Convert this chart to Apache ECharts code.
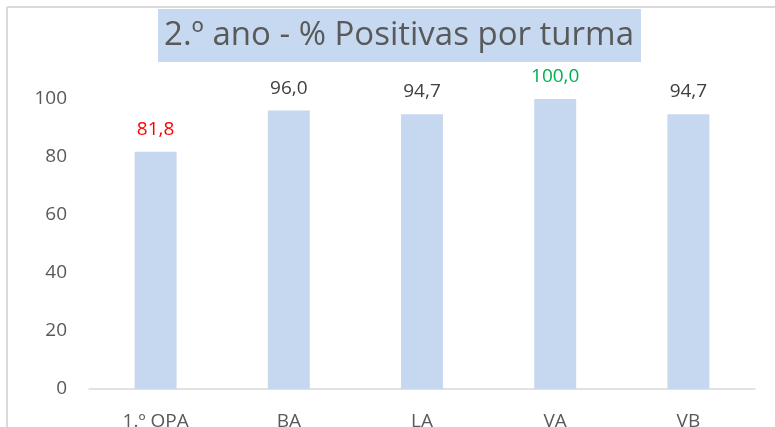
<!DOCTYPE html>
<html>
<head>
<meta charset="utf-8">
<script src="https://cdn.jsdelivr.net/npm/echarts@6/dist/echarts.min.js"></script>
<style>
  html, body { margin: 0; padding: 0; background: #fff; }
  #chart { width: 775px; height: 427px; }
</style>
</head>
<body>
<div id="chart"></div>
<script>
const categories = ['1.º OPA', 'BA', 'LA', 'VA', 'VB'];
const positivas = [81.8, 96.0, 94.7, 100.0, 94.7];
const labelColors = ['#ff0000', '#404040', '#404040', '#00b050', '#404040'];
const yTicks = [0, 20, 40, 60, 80, 100];

const font = '"Open Sans", "Noto Sans", sans-serif';
const myChart = echarts.init(document.getElementById('chart'));

myChart.setOption({
  animation: false,
  backgroundColor: '#fff',
  graphic: [
    // chart frame (top and left edges visible)
    { type: 'line', z: -1, shape: { x1: 7, y1: 7, x2: 775, y2: 7 }, style: { stroke: '#d9d9d9', lineWidth: 2 } },
    { type: 'line', z: -1, shape: { x1: 7, y1: 7, x2: 7, y2: 427 }, style: { stroke: '#d9d9d9', lineWidth: 2 } },
    // title box
    { type: 'rect', z: 0, shape: { x: 158, y: 9, width: 483, height: 53 }, style: { fill: '#c6d9f0' } },
    {
      type: 'text', z: 1, x: 399, y: 36,
      style: {
        text: '2.º ano - % Positivas por turma', fill: '#595959',
        font: '33px ' + font, align: 'center', verticalAlign: 'middle'
      }
    }
  ],
  grid: { left: 89, right: 20, top: 99, bottom: 38, outerBoundsMode: 'none', containLabel: false },
  xAxis: {
    type: 'category',
    data: categories,
    axisLine: { lineStyle: { color: '#d9d9d9', width: 1.5 } },
    axisTick: { show: false },
    axisLabel: { color: '#595959', fontSize: 19, fontFamily: font, margin: 23 }
  },
  yAxis: {
    type: 'value',
    min: yTicks[0],
    max: yTicks[yTicks.length - 1],
    interval: 20,
    splitLine: { show: false },
    axisLine: { show: false },
    axisTick: { show: false },
    axisLabel: { color: '#595959', fontSize: 19, fontFamily: font, margin: 22 }
  },
  series: [{
    type: 'bar',
    barWidth: '31.5%',
    itemStyle: { color: '#c6d8f0' },
    data: positivas.map((v, i) => ({
      value: v,
      label: { color: labelColors[i] }
    })),
    label: {
      show: true,
      position: 'top',
      distance: 13,
      fontSize: 19,
      fontFamily: font,
      formatter: p => p.value.toFixed(1).replace('.', ',')
    }
  }]
});

window.addEventListener('resize', () => myChart.resize());
</script>
</body>
</html>
